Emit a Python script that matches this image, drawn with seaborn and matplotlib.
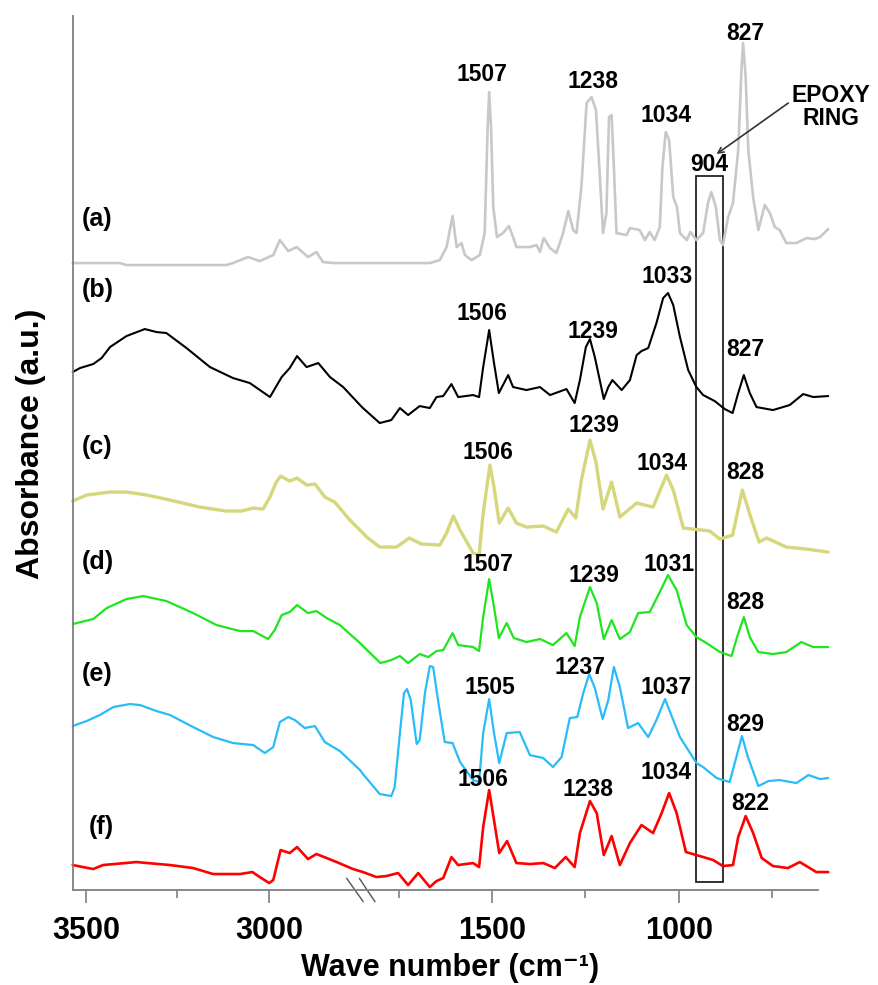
import numpy as np
import pandas as pd
import matplotlib
matplotlib.use("Agg")
import matplotlib.pyplot as plt
from matplotlib.patches import Rectangle
from matplotlib.lines import Line2D
import seaborn as sns

# ---------------- data (wavenumber cm-1, relative absorbance) ----------------
w_a = [3536, 3407, 3389, 3116, 3098, 3057, 3025, 2988, 2970, 2947, 2924, 2893, 2870, 2852, 2825, 2743,
       1846, 1667, 1640, 1622, 1606, 1595, 1582, 1573, 1555, 1533, 1520, 1512, 1508, 1503, 1497, 1487,
       1471, 1455, 1444, 1435, 1399, 1381, 1372, 1362, 1345, 1328, 1310, 1296, 1283, 1274, 1261, 1247,
       1234, 1222, 1213, 1203, 1194, 1187, 1180, 1174, 1167, 1140, 1131, 1105, 1091, 1078, 1065, 1051,
       1044, 1035, 1026, 1015, 1005, 997, 979, 969, 953, 935, 922, 913, 901, 890, 882, 868, 855, 841,
       832, 828, 821, 814, 801, 787, 770, 756, 743, 730, 712, 685, 658, 636, 622, 600]
h_a = [627, 627, 625, 625, 627, 633, 629, 635, 650, 639, 643, 633, 638, 628, 627, 627,
       627, 627, 630, 643, 674, 643, 647, 635, 630, 635, 657, 763, 798, 763, 683, 653,
       657, 664, 653, 643, 643, 645, 638, 652, 642, 637, 657, 679, 660, 657, 703, 787,
       793, 780, 723, 657, 677, 773, 775, 723, 657, 655, 662, 660, 650, 658, 650, 663,
       723, 758, 750, 693, 683, 657, 650, 658, 650, 657, 687, 698, 683, 650, 645, 673, 687, 740,
       823, 847, 813, 740, 693, 660, 685, 677, 663, 660, 647, 647, 652, 651, 653, 661]

w_b = [3536, 3516, 3480, 3457, 3434, 3389, 3339, 3307, 3280, 3225, 3161, 3098, 3052, 2997, 2965, 2943,
       2923, 2897, 2865, 2833, 2797, 2751, 2743, 1846, 1801, 1770, 1747, 1725, 1694, 1667, 1649, 1631,
       1609, 1591, 1551, 1535, 1524, 1508, 1495, 1482, 1471, 1457, 1444, 1408, 1372, 1345, 1301, 1279,
       1265, 1249, 1238, 1225, 1201, 1189, 1178, 1153, 1131, 1113, 1100, 1082, 1060, 1042, 1029, 1015,
       997, 975, 953, 935, 904, 877, 856, 841, 826, 810, 792, 748, 703, 667, 640, 600]
h_b = [518, 522, 526, 532, 543, 554, 561, 558, 557, 542, 523, 512, 507, 493, 513, 522,
       534, 523, 527, 513, 503, 485, 482, 482, 467, 470, 482, 475, 484, 482, 493, 494,
       506, 493, 495, 493, 523, 560, 527, 497, 505, 515, 503, 500, 503, 495, 501, 487,
       510, 543, 551, 533, 491, 503, 510, 500, 510, 535, 539, 542, 567, 592, 597, 585,
       553, 520, 503, 495, 489, 481, 477, 497, 515, 497, 483, 480, 485, 496, 493, 494]

w_c = [3536, 3498, 3434, 3389, 3334, 3270, 3189, 3116, 3075, 3043, 3016, 2997, 2981, 2968, 2943, 2923,
       2897, 2874, 2847, 2820, 2779, 2743, 1846, 1836, 1801, 1756, 1722, 1689, 1640, 1622, 1604, 1586,
       1551, 1535, 1524, 1506, 1495, 1481, 1457, 1435, 1408, 1363, 1328, 1296, 1276, 1261, 1238, 1222,
       1203, 1180, 1158, 1113, 1069, 1033, 1015, 988, 962, 917, 890, 856, 830, 805, 785, 765, 712, 658, 600]
h_c = [389, 395, 398, 398, 395, 390, 383, 379, 379, 382, 381, 393, 407, 414, 409, 412,
       405, 406, 393, 388, 370, 357, 357, 353, 343, 343, 352, 346, 345, 357, 374, 360,
       337, 335, 377, 425, 403, 367, 382, 367, 363, 364, 358, 381, 372, 410, 450, 428,
       381, 408, 373, 387, 383, 415, 400, 362, 361, 359, 351, 355, 400, 370, 348, 352, 343, 341, 338]

w_d = [3536, 3480, 3443, 3389, 3343, 3280, 3207, 3143, 3079, 3043, 3002, 2984, 2965, 2943, 2923, 2893,
       2870, 2842, 2806, 2751, 2743, 1846, 1799, 1770, 1747, 1725, 1694, 1671, 1649, 1631, 1606, 1591,
       1551, 1535, 1524, 1508, 1495, 1482, 1461, 1442, 1408, 1372, 1337, 1301, 1279, 1265, 1238, 1220,
       1201, 1180, 1158, 1131, 1109, 1078, 1051, 1029, 1006, 979, 953, 926, 890, 859, 844, 826, 810,
       787, 748, 712, 672, 640, 600]
h_d = [266, 271, 282, 291, 294, 289, 277, 265, 259, 259, 251, 260, 275, 278, 285, 277,
       279, 272, 265, 247, 244, 244, 227, 230, 234, 227, 236, 233, 239, 240, 257, 245,
       243, 239, 273, 311, 283, 252, 267, 252, 248, 251, 245, 257, 244, 273, 303, 287,
       251, 270, 251, 258, 277, 278, 298, 315, 300, 265, 253, 247, 238, 234, 253, 273, 253,
       238, 236, 238, 248, 243, 243]

w_e = [3536, 3498, 3462, 3425, 3380, 3352, 3307, 3270, 3207, 3152, 3098, 3043, 3011, 2988, 2970, 2947,
       2929, 2902, 2874, 2847, 2806, 2751, 2743, 1846, 1801, 1770, 1761, 1747, 1736, 1728, 1718, 1702,
       1694, 1680, 1667, 1658, 1645, 1627, 1606, 1586, 1551, 1535, 1524, 1508, 1495, 1481, 1461, 1426,
       1399, 1363, 1337, 1314, 1292, 1272, 1256, 1240, 1225, 1204, 1189, 1174, 1158, 1136, 1109, 1082,
       1060, 1037, 1015, 997, 975, 953, 935, 899, 864, 846, 831, 815, 787, 760, 730, 685, 653, 622, 600]
h_e = [164, 169, 175, 183, 186, 185, 179, 175, 163, 153, 147, 145, 137, 143, 168, 173,
       170, 162, 164, 148, 139, 120, 116, 116, 96, 94, 103, 157, 197, 201, 190, 146,
       150, 197, 224, 223, 190, 148, 147, 128, 110, 108, 157, 191, 157, 127, 157, 158,
       135, 132, 123, 133, 172, 173, 197, 216, 202, 171, 190, 223, 203, 162, 167, 153,
       170, 191, 170, 153, 140, 127, 123, 112, 108, 133, 154, 133, 104, 109, 110, 107, 115, 111, 112]

w_f = [3536, 3480, 3453, 3362, 3270, 3207, 3152, 3079, 3045, 3025, 2999, 2988, 2968, 2943, 2923, 2893,
       2870, 2842, 2815, 2770, 2743, 1846, 1810, 1783, 1752, 1725, 1698, 1667, 1649, 1631, 1609, 1591,
       1551, 1535, 1524, 1508, 1495, 1481, 1460, 1435, 1399, 1363, 1332, 1303, 1279, 1265, 1238, 1220,
       1201, 1180, 1158, 1131, 1100, 1069, 1046, 1026, 1006, 981, 953, 908, 882, 855, 841, 821, 801,
       778, 748, 708, 676, 632, 600]
h_f = [25, 21, 25, 28, 25, 22, 16, 16, 18, 13, 7, 10, 40, 37, 43, 31,
       36, 32, 28, 21, 18, 18, 13, 14, 17, 5, 17, 3, 9, 12, 33, 25,
       27, 23, 63, 100, 70, 37, 49, 27, 26, 27, 22, 33, 23, 57, 89, 77,
       35, 54, 25, 47, 65, 57, 77, 97, 77, 38, 35, 30, 24, 25, 53, 74, 57,
       32, 24, 22, 28, 18, 18]

series_names = ["(a)", "(b)", "(c)", "(d)", "(e)", "(f)"]
series_w = [w_a, w_b, w_c, w_d, w_e, w_f]
series_h = [h_a, h_b, h_c, h_d, h_e, h_f]

peak_labels = {
    "(a)": ["1507", "1238", "1034", "904", "827"],
    "(b)": ["1506", "1239", "1033", "827"],
    "(c)": ["1506", "1239", "1034", "828"],
    "(d)": ["1507", "1239", "1031", "828"],
    "(e)": ["1505", "1237", "1037", "829"],
    "(f)": ["1506", "1238", "1034", "822"],
}

major_ticks = [3500, 3000, 1500, 1000]
minor_ticks = [3250, 1750, 1250, 750]

# ---------------- style ----------------
sns.set_style("white")
plt.rcParams["font.family"] = ["Liberation Sans", "DejaVu Sans"]
plt.rcParams["font.weight"] = "bold"
plt.rcParams["text.color"] = "black"
plt.rcParams["axes.labelcolor"] = "black"
plt.rcParams["xtick.labelcolor"] = "black"

colors = {"(a)": "#c8c8c8", "(b)": "#000000", "(c)": "#d6d67c",
          "(d)": "#1ee61e", "(e)": "#28bcf8", "(f)": "#ff0000"}
widths = {"(a)": 1.9, "(b)": 1.5, "(c)": 2.4, "(d)": 1.6, "(e)": 1.6, "(f)": 1.9}

fig = plt.figure(figsize=(8.79, 9.85), dpi=100)
ax = fig.add_axes([0.0827, 0.0964, 0.8479, 0.8873])

for name, w, h in zip(series_names, series_w, series_h):
    df = pd.DataFrame({"wavenumber": w, "absorbance": h})
    sns.lineplot(data=df, x="wavenumber", y="absorbance", ax=ax, sort=False,
                 estimator=None, color=colors[name], linewidth=widths[name],
                 clip_on=False)

# ---------------- broken x axis via piecewise scale ----------------
LEFT_HI, LEFT_LO = 3536.0, 2743.0      # left segment
RIGHT_HI = 1846.0                       # right segment starts here
s_left, s_right = 0.366, 0.3734        # px per cm-1
gap_pos = (LEFT_HI - LEFT_LO) * s_left
wk = np.array([0.0, RIGHT_HI, LEFT_LO, 6000.0])
pk = np.array([
    -(gap_pos + 0.01 + (RIGHT_HI - 0.0) * s_right),
    -(gap_pos + 0.01),
    -gap_pos,
    -(LEFT_HI - 6000.0) * s_left,
])


def fwd(x):
    return np.interp(np.asarray(x, dtype=float), wk, pk)


def inv(y):
    return np.interp(np.asarray(y, dtype=float), pk, wk)


ax.set_xscale("function", functions=(fwd, inv))
right_end = RIGHT_HI - (745.3 - gap_pos - 0.01) / s_right
ax.set_xlim(LEFT_HI, right_end)
ax.set_ylim(0, 874)

ax.set_xticks(major_ticks)
ax.set_xticklabels([str(t) for t in major_ticks])
ax.set_xticks(minor_ticks, minor=True)
ax.set_xticklabels([], minor=True)
ax.set_yticks([])
ax.tick_params(axis="x", which="major", length=9.5, width=1.2, color="#7f7f7f",
               labelsize=22, pad=9, direction="out", bottom=True, labelcolor="black")
ax.tick_params(axis="x", which="minor", length=5.5, width=1.2, color="#7f7f7f",
               direction="out", bottom=True)
for lab in ax.get_xticklabels():
    lab.set_fontweight("bold")

sns.despine(ax=ax)
for sp in ["left", "bottom"]:
    ax.spines[sp].set_color("#7f7f7f")
    ax.spines[sp].set_linewidth(1.3)

ax.set_xlabel("Wave number (cm\u207b\u00b9)", fontsize=22, fontweight="bold", va="center",
              color="black")
ax.xaxis.set_label_coords(0.506, -0.089)
ax.set_ylabel("Absorbance (a.u.)", fontsize=23, fontweight="bold", va="center", color="black")
ax.yaxis.set_label_coords(-0.056, 0.51)

# axis break marks
for x0, x1 in [(0.3676, 0.3899), (0.3846, 0.4056)]:
    ax.add_line(Line2D([x0, x1], [0.0134, -0.0134], transform=ax.transAxes,
                       color="#555555", lw=1.0, clip_on=False))

# series labels (a)-(f)
ytr = ax.get_yaxis_transform()
label_pos = {"(a)": (0.012, 671), "(b)": (0.012, 600), "(c)": (0.012, 443),
             "(d)": (0.012, 328), "(e)": (0.012, 216), "(f)": (0.021, 63)}
for name in series_names:
    xx, yy = label_pos[name]
    ax.text(xx, yy, name, transform=ytr, fontsize=18, fontweight="bold",
            ha="left", va="center", color="black")

# peak annotations
peak_pos = {
    "(a)": [(1528, 816), (1229, 809), (1033, 775), (919, 726), (823, 857)],
    "(b)": [(1526, 577), (1229, 559), (1031, 614), (823, 541)],
    "(c)": [(1511, 438), (1227, 465), (1046, 427), (823, 418)],
    "(d)": [(1511, 326), (1227, 315), (1026, 326), (823, 288)],
    "(e)": [(1506, 203), (1265, 223), (1035, 203), (823, 166)],
    "(f)": [(1524, 111), (1243, 101), (1033, 118), (808, 87)],
}
for name in series_names:
    for txt, (px, py) in zip(peak_labels[name], peak_pos[name]):
        ax.text(px, py, txt, fontsize=16.5, fontweight="bold", ha="center", va="center",
                color="black")

# epoxy ring box + arrow
ax.add_patch(Rectangle((953, 8), 882 - 953, 714 - 8, fill=False, edgecolor="#111111",
                       lw=1.2, clip_on=False))
ax.annotate("", xy=(899, 736), xytext=(707, 787),
            arrowprops=dict(arrowstyle="->", color="#333333", lw=1.2,
                            shrinkA=0, shrinkB=0), annotation_clip=False)
ax.text(1.017, 783, "EPOXY\nRING", transform=ytr, fontsize=16.5, fontweight="bold",
        ha="center", va="center", linespacing=1.0, multialignment="center", color="black")

fig.savefig("out.png", dpi=100)
